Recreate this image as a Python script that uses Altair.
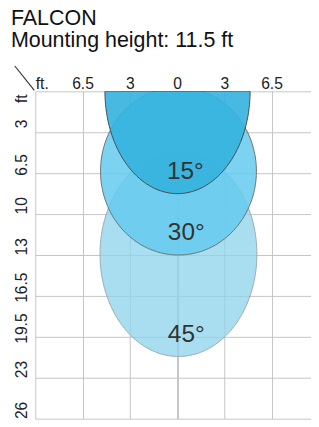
import altair as alt
import pandas as pd

# ---- data ----
title_lines = ["FALCON", "Mounting height: 11.5 ft"]

col_pos = [-3, -2, -1, 0, 1, 2]
col_labels = ["ft.", "6.5", "3", "0", "3", "6.5"]

row_pos = [0, 1, 2, 3, 4, 5, 6, 7, 8]
row_labels = ["ft", "3", "6.5", "10", "13", "16.5", "19.5", "23", "26"]

# beams, in grid units (columns across, rows down)
beam_names = ["45°", "30°", "15°"]
beam_cx = [0.03, 0.03, 0.01]
beam_cy = [3.98, 1.95, 0.0]
beam_a = [1.66, 1.65, 1.536]
beam_b = [2.5, 2.05, 2.5]
beam_t0 = [-90, -90, 0]

beam_fill = ["#8bd3eb", "#65caee", "#34b2de"]
beam_opacity = [0.75, 0.85, 0.9]
beam_stroke = ["#9aaab0", "#707070", "#4a4a4a"]

FONT = "Liberation Sans"

xscale = alt.Scale(domain=[-3, 2.835], nice=False, zero=False)
yscale = alt.Scale(domain=[0, 8], nice=False, zero=False, reverse=True)

col_expr = "[" + ",".join(f"'{l}'" for l in col_labels) + "][datum.value + 3]"
row_expr = "[" + ",".join(f"'{l}'" for l in row_labels) + "][datum.value]"

x_axis = alt.Axis(
    orient="top", values=col_pos, labelExpr=col_expr, title=None,
    domain=False, ticks=False, tickSize=0, labelPadding=3,
    labelBaseline="alphabetic", labelFontSize=16, labelFont=FONT, labelColor="#222",
    labelAlign=alt.condition("datum.value == -3", alt.value("left"), alt.value("center")),
    labelFlush=False, labelOverlap=False,
    grid=True,
    gridColor=alt.condition("datum.value == 0", alt.value("#8a8a8a"), alt.value("#c4c4c4")),
    gridWidth=1,
)
y_axis = alt.Axis(
    orient="left", values=row_pos, labelExpr=row_expr, title=None,
    domain=False, ticks=False, tickSize=0, labelPadding=9,
    labelAngle=270, labelAlign="center", labelBaseline="alphabetic",
    labelFontSize=16, labelFont=FONT, labelColor="#222",
    labelOffset=alt.condition("datum.value == 0", alt.value(7), alt.value(-9)),
    labelFlush=False, labelOverlap=False,
    grid=True, gridColor="#c4c4c4", gridWidth=1,
)

beams = pd.DataFrame({
    "beam": beam_names, "cx": beam_cx, "cy": beam_cy,
    "a": beam_a, "b": beam_b, "t0": beam_t0,
})

layers = []
for i, name in enumerate(beam_names):
    layer = (
        alt.Chart(beams)
        .transform_filter(alt.datum.beam == name)
        .transform_calculate(t="sequence(datum.t0, 90.5, 1.5)")
        .transform_flatten(["t"])
        .transform_calculate(
            yy="datum.cy + datum.b * sin(datum.t * PI / 180)",
            xl="datum.cx - datum.a * cos(datum.t * PI / 180)",
            xr="datum.cx + datum.a * cos(datum.t * PI / 180)",
        )
        .mark_area(
            orient="horizontal", clip=True, fill=beam_fill[i],
            fillOpacity=beam_opacity[i], stroke=beam_stroke[i], strokeWidth=1,
        )
        .encode(
            y=alt.Y("yy:Q", scale=yscale, axis=y_axis),
            x=alt.X("xl:Q", scale=xscale, axis=x_axis, stack=None),
            x2="xr:Q",
        )
    )
    layers.append(layer)

labels = (
    alt.Chart(beams)
    .transform_calculate(ly="datum.cy + datum.b")
    .mark_text(fontSize=25, font=FONT, color="#333", align="center",
               baseline="alphabetic", dx=8, dy=-15)
    .encode(
        x=alt.X("cx:Q", scale=xscale, axis=x_axis),
        y=alt.Y("ly:Q", scale=yscale, axis=y_axis),
        text="beam:N",
    )
)

corner = (
    alt.Chart(pd.DataFrame({"k": [0]}))
    .mark_rule(color="#333", strokeWidth=1.2)
    .encode(x=alt.value(-1), y=alt.value(-1), x2=alt.value(-21), y2=alt.value(-26))
)

chart = (
    alt.layer(*layers, labels, corner)
    .properties(
        width=283, height=336,
        padding={"left": 28, "top": 80, "right": 0, "bottom": 3},
        autosize=alt.AutoSizeParams(type="none"),
        title=alt.Title(
            text=title_lines, anchor="start", frame="group", fontSize=22,
            font=FONT, fontWeight="normal", color="#111", lineHeight=22.5,
            dx=-25, offset=14,
        ),
        background="white",
    )
    .configure_view(strokeWidth=0)
)

chart.save("out.html", embed_options={"renderer": "svg", "actions": False})
